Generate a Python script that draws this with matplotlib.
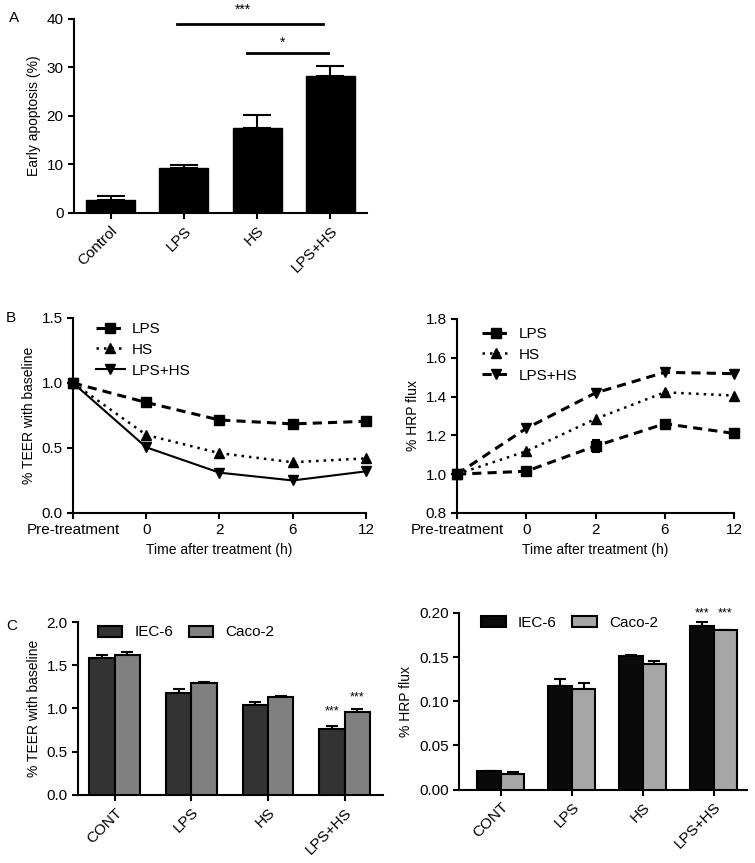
import numpy as np
import matplotlib
matplotlib.use("Agg")
import matplotlib.pyplot as plt

plt.rcParams["font.family"] = ["Liberation Sans", "DejaVu Sans"]
plt.rcParams["axes.linewidth"] = 1.5

# ---- panel A: early apoptosis ----
a_groups = ["Control", "LPS", "HS", "LPS+HS"]
a_mean = [2.7, 9.3, 17.5, 28.3]
a_err = [0.8, 0.6, 2.7, 2.1]

# ---- panel B: time course ----
time_labels = ["Pre-treatment", "0", "2", "6", "12"]
teer_lps = [1.0, 0.85, 0.715, 0.685, 0.705]
teer_hs = [1.0, 0.60, 0.46, 0.39, 0.42]
teer_lpshs = [1.0, 0.505, 0.31, 0.25, 0.32]
hrp_lps = [1.0, 1.015, 1.145, 1.26, 1.21]
hrp_lps_err = [0.0, 0.0, 0.03, 0.0, 0.0]
hrp_hs = [1.0, 1.118, 1.285, 1.422, 1.405]
hrp_lpshs = [1.0, 1.236, 1.419, 1.525, 1.518]

# ---- panel C: cell lines ----
c_groups = ["CONT", "LPS", "HS", "LPS+HS"]
c_series = ["IEC-6", "Caco-2"]
teer_iec = [1.585, 1.18, 1.035, 0.765]
teer_iec_err = [0.03, 0.04, 0.035, 0.03]
teer_caco = [1.62, 1.295, 1.13, 0.958]
teer_caco_err = [0.03, 0.015, 0.015, 0.03]
hrp_iec = [0.0206, 0.1177, 0.1516, 0.1848]
hrp_iec_err = [0.001, 0.007, 0.001, 0.0047]
hrp_caco = [0.018, 0.114, 0.1422, 0.1805]
hrp_caco_err = [0.002, 0.007, 0.003, 0.0008]

TICK_FS = 11
LABEL_FS = 10


def style_axes(ax):
    ax.spines["top"].set_visible(False)
    ax.spines["right"].set_visible(False)
    ax.tick_params(direction="out", length=4, width=1.5, labelsize=TICK_FS)


def up_err(ax, x, y, err, capsize):
    ax.errorbar(x, y, yerr=[np.zeros(len(err)), err], fmt="none",
                ecolor="black", elinewidth=1.5, capsize=capsize, capthick=1.5)


fig = plt.figure(figsize=(7.55, 8.63), dpi=100)

# ---------------- A ----------------
axA = fig.add_axes([0.098, 0.7532, 0.388, 0.2248])
xa = np.arange(len(a_groups))
up_err(axA, xa, a_mean, a_err, 10)
axA.bar(xa, a_mean, width=0.67, color="black", edgecolor="black", zorder=3)
axA.set_xlim(-0.5, 3.5)
axA.set_ylim(0, 40)
axA.set_yticks([0, 10, 20, 30, 40])
axA.set_xticks(xa)
axA.set_xticklabels(a_groups, rotation=45, ha="right", rotation_mode="anchor")
axA.set_ylabel("Early apoptosis (%)", fontsize=LABEL_FS)
style_axes(axA)
axA.plot([0.9, 2.9], [38.9, 38.9], color="black", lw=2, clip_on=False)
axA.text(1.8, 40.4, "***", ha="center", va="bottom", fontsize=10)
axA.plot([1.86, 2.97], [32.9, 32.9], color="black", lw=2, clip_on=False)
axA.text(2.35, 33.6, "*", ha="center", va="bottom", fontsize=10)
fig.text(0.012, 0.975, "A", fontsize=11)

# ---------------- B ----------------
xt = np.arange(len(time_labels))
leg_kw = dict(loc="upper left", frameon=False, fontsize=TICK_FS,
              handlelength=1.9, handletextpad=0.5, labelspacing=0.45)

axB1 = fig.add_axes([0.0967, 0.4056, 0.388, 0.226])
axB1.plot(xt, teer_lps, color="black", lw=2.2, ls=(0, (3, 2)), marker="s",
          ms=7, label="LPS", clip_on=False, zorder=3)
axB1.plot(xt, teer_hs, color="black", lw=1.8, ls=(0, (1, 2)), marker="^",
          ms=7, label="HS", clip_on=False, zorder=3)
axB1.plot(xt, teer_lpshs, color="black", lw=1.5, ls="-", marker="v",
          ms=7, label="LPS+HS", clip_on=False, zorder=3)
axB1.set_xlim(0, 4)
axB1.set_ylim(0, 1.5)
axB1.set_yticks([0.0, 0.5, 1.0, 1.5])
axB1.set_xticks(xt)
axB1.set_xticklabels(time_labels)
axB1.set_ylabel("% TEER with baseline", fontsize=LABEL_FS)
axB1.set_xlabel("Time after treatment (h)", fontsize=LABEL_FS)
style_axes(axB1)
axB1.legend(bbox_to_anchor=(0.03, 1.05), **leg_kw)
fig.text(0.008, 0.627, "B", fontsize=11)

axB2 = fig.add_axes([0.6053, 0.4056, 0.3669, 0.2248])
axB2.errorbar(xt, hrp_lps, yerr=hrp_lps_err, fmt="none", ecolor="black",
              elinewidth=1.5, capsize=3, capthick=1.5, zorder=2)
axB2.plot(xt, hrp_lps, color="black", lw=2.2, ls=(0, (3, 2)), marker="s",
          ms=7, label="LPS", clip_on=False, zorder=3)
axB2.plot(xt, hrp_hs, color="black", lw=1.8, ls=(0, (1, 2)), marker="^",
          ms=7, label="HS", clip_on=False, zorder=3)
axB2.plot(xt, hrp_lpshs, color="black", lw=2.2, ls=(0, (3, 2)), marker="v",
          ms=7, label="LPS+HS", clip_on=False, zorder=3)
axB2.set_xlim(0, 4)
axB2.set_ylim(0.8, 1.8)
axB2.set_yticks([0.8, 1.0, 1.2, 1.4, 1.6, 1.8])
axB2.set_xticks(xt)
axB2.set_xticklabels(time_labels)
axB2.set_ylabel("% HRP flux", fontsize=LABEL_FS)
axB2.set_xlabel("Time after treatment (h)", fontsize=LABEL_FS)
style_axes(axB2)
axB2.legend(bbox_to_anchor=(0.04, 1.03), **leg_kw)

# ---------------- C ----------------
xc = np.arange(len(c_groups))
w = 0.33
bar_leg_kw = dict(loc="upper left", ncol=2, frameon=False, fontsize=TICK_FS,
                  handlelength=1.6, handleheight=0.75, columnspacing=1.0)

axC1 = fig.add_axes([0.1033, 0.079, 0.404, 0.2002])
up_err(axC1, xc - w / 2, teer_iec, teer_iec_err, 4)
up_err(axC1, xc + w / 2, teer_caco, teer_caco_err, 4)
axC1.bar(xc - w / 2, teer_iec, width=w, color="#333333", edgecolor="black",
         lw=1.5, label=c_series[0], zorder=3)
axC1.bar(xc + w / 2, teer_caco, width=w, color="#808080", edgecolor="black",
         lw=1.5, label=c_series[1], zorder=3)
axC1.set_xlim(-0.48, 3.5)
axC1.set_ylim(0, 2.0)
axC1.set_yticks([0.0, 0.5, 1.0, 1.5, 2.0])
axC1.set_xticks(xc)
axC1.set_xticklabels(c_groups, rotation=45, ha="right", rotation_mode="anchor",
                     fontsize=10.5)
axC1.set_ylabel("% TEER with baseline", fontsize=LABEL_FS)
style_axes(axC1)
axC1.text(3 - w / 2, 0.97, "***", ha="center", va="center", fontsize=9)
axC1.text(3 + w / 2, 1.13, "***", ha="center", va="center", fontsize=9)
axC1.legend(bbox_to_anchor=(0.02, 1.06), **bar_leg_kw)
fig.text(0.008, 0.27, "C", fontsize=11)

axC2 = fig.add_axes([0.608, 0.085, 0.3815, 0.2047])
up_err(axC2, xc - w / 2, hrp_iec, hrp_iec_err, 4)
up_err(axC2, xc + w / 2, hrp_caco, hrp_caco_err, 4)
axC2.bar(xc - w / 2, hrp_iec, width=w, color="#0a0a0a", edgecolor="black",
         lw=1.5, label=c_series[0], zorder=3)
axC2.bar(xc + w / 2, hrp_caco, width=w, color="#a6a6a6", edgecolor="black",
         lw=1.5, label=c_series[1], zorder=3)
axC2.set_xlim(-0.59, 3.47)
axC2.set_ylim(0, 0.20)
axC2.set_yticks([0.00, 0.05, 0.10, 0.15, 0.20])
axC2.set_yticklabels(["0.00", "0.05", "0.10", "0.15", "0.20"])
axC2.set_xticks(xc)
axC2.set_xticklabels(c_groups, rotation=45, ha="right", rotation_mode="anchor",
                     fontsize=10.5)
axC2.set_ylabel("% HRP flux", fontsize=LABEL_FS)
style_axes(axC2)
axC2.text(3 - w / 2, 0.2, "***", ha="center", va="center", fontsize=9)
axC2.text(3 + w / 2, 0.2, "***", ha="center", va="center", fontsize=9)
axC2.legend(bbox_to_anchor=(0.03, 1.06), **bar_leg_kw)

fig.savefig("out.png", dpi=100)
